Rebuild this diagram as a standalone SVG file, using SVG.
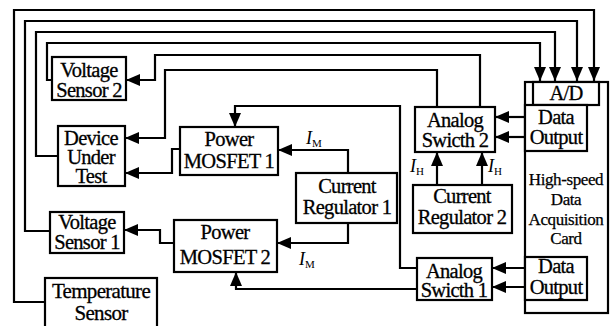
<svg xmlns="http://www.w3.org/2000/svg" width="614" height="326" viewBox="0 0 614 326">
<style>
  .box { fill: #fff; stroke: #000; stroke-width: 2.2; }
  .t { font-family: "Liberation Serif", "Times New Roman", serif; font-size: 20.5px; fill: #000; stroke: #000; stroke-width: 0.3px; text-anchor: middle; letter-spacing: -0.7px; }
  .ts { font-family: "Liberation Serif", "Times New Roman", serif; font-size: 17px; fill: #000; stroke: #000; stroke-width: 0.25px; text-anchor: middle; letter-spacing: -0.4px; }
  .lab { font-family: "Liberation Serif", "Times New Roman", serif; font-size: 18px; fill: #000; }
  .w { fill: none; stroke: #000; stroke-width: 2.2; }
  .a { marker-end: url(#ah); }
</style>
<defs>
  <marker id="ah" viewBox="0 0 14 12" refX="14" refY="6" markerWidth="14" markerHeight="12" markerUnits="userSpaceOnUse" orient="auto">
    <path d="M0,0 L14,6 L0,12 z" fill="#000"/>
  </marker>
</defs>

<g id="connectors">
  <path class="w a" d="M45,302 H14 V10 H594 V81"/>
  <path class="w a" d="M50,231 H25 V21 H577 V81"/>
  <path class="w a" d="M58,156 H36 V32 H555 V81"/>
  <path class="w a" d="M52,80 H47 V43 H540 V81"/>
  <path class="w a" d="M480,107 V55 H155 V80 H126"/>
  <path class="w a" d="M437,107 V70 H165 V138 H125"/>
  <path class="w a" d="M180,149 H172 V173 H125"/>
  <path class="w a" d="M417,268 H400 V106 H235 V127"/>
  <path class="w a" d="M348,173 V150 H278"/>
  <path class="w a" d="M348,223 V243 H277"/>
  <path class="w a" d="M417,289 H236 V272"/>
  <path class="w a" d="M174,243 H160 V230 H124"/>
  <path class="w a" d="M437,185 V152"/>
  <path class="w a" d="M482,185 V152"/>
  <path class="w a" d="M525,117 H495"/>
  <path class="w a" d="M525,137 H495"/>
  <path class="w a" d="M525,268 H492"/>
  <path class="w a" d="M525,287 H492"/>
</g>

<g id="labels">
  <text class="lab" x="306" y="144"><tspan font-style="italic">I</tspan><tspan font-size="11" dy="3">M</tspan></text>
  <text class="lab" x="299" y="265"><tspan font-style="italic">I</tspan><tspan font-size="11" dy="3">M</tspan></text>
  <text class="lab" x="410" y="172"><tspan font-style="italic">I</tspan><tspan font-size="11" dy="3">H</tspan></text>
  <text class="lab" x="488" y="172"><tspan font-style="italic">I</tspan><tspan font-size="11" dy="3">H</tspan></text>
</g>

<g id="card">
  <rect class="box" x="525" y="82" width="83" height="231"/>
  <text class="ts" x="566" y="185">High-speed</text>
  <text class="ts" x="566" y="205">Data</text>
  <text class="ts" x="566" y="225">Acquisition</text>
  <text class="ts" x="566" y="244">Card</text>
</g>
<g id="ad">
  <rect class="box" x="533" y="82" width="66" height="23"/>
  <text class="t" x="566" y="100">A/D</text>
</g>
<g id="do1">
  <rect class="box" x="525" y="105" width="62" height="46"/>
  <text class="t" x="556" y="124">Data</text>
  <text class="t" x="556" y="144">Output</text>
</g>
<g id="do2">
  <rect class="box" x="525" y="257" width="62" height="43"/>
  <text class="t" x="556" y="273">Data</text>
  <text class="t" x="556" y="294">Output</text>
</g>
<g id="as2">
  <rect class="box" x="415" y="107" width="80" height="45"/>
  <text class="t" x="455" y="127">Analog</text>
  <text class="t" x="455" y="147">Swicth 2</text>
</g>
<g id="as1">
  <rect class="box" x="417" y="258" width="75" height="42"/>
  <text class="t" x="454" y="278">Analog</text>
  <text class="t" x="454" y="297">Swicth 1</text>
</g>
<g id="cr2">
  <rect class="box" x="413" y="185" width="99" height="48"/>
  <text class="t" x="462" y="203">Current</text>
  <text class="t" x="462" y="224">Regulator 2</text>
</g>
<g id="cr1">
  <rect class="box" x="296" y="173" width="101" height="50"/>
  <text class="t" x="347" y="193">Current</text>
  <text class="t" x="347" y="214">Regulator 1</text>
</g>
<g id="pm1">
  <rect class="box" x="180" y="127" width="98" height="48"/>
  <text class="t" x="229" y="146">Power</text>
  <text class="t" x="229" y="168">MOSFET 1</text>
</g>
<g id="pm2">
  <rect class="box" x="174" y="220" width="103" height="52"/>
  <text class="t" x="225" y="239">Power</text>
  <text class="t" x="225" y="264">MOSFET 2</text>
</g>
<g id="vs2">
  <rect class="box" x="52" y="57" width="74" height="43"/>
  <text class="t" x="89" y="77">Voltage</text>
  <text class="t" x="89" y="97">Sensor 2</text>
</g>
<g id="dut">
  <rect class="box" x="58" y="126" width="67" height="60"/>
  <text class="t" x="91" y="145">Device</text>
  <text class="t" x="91" y="164">Under</text>
  <text class="t" x="91" y="183">Test</text>
</g>
<g id="vs1">
  <rect class="box" x="50" y="212" width="74" height="41"/>
  <text class="t" x="87" y="229">Voltage</text>
  <text class="t" x="87" y="249">Sensor 1</text>
</g>
<g id="temp">
  <rect class="box" x="45" y="278" width="112" height="52"/>
  <text class="t" x="101" y="298" style="font-size:21px">Temperature</text>
  <text class="t" x="101" y="320" style="font-size:21px">Sensor</text>
</g>
</svg>
